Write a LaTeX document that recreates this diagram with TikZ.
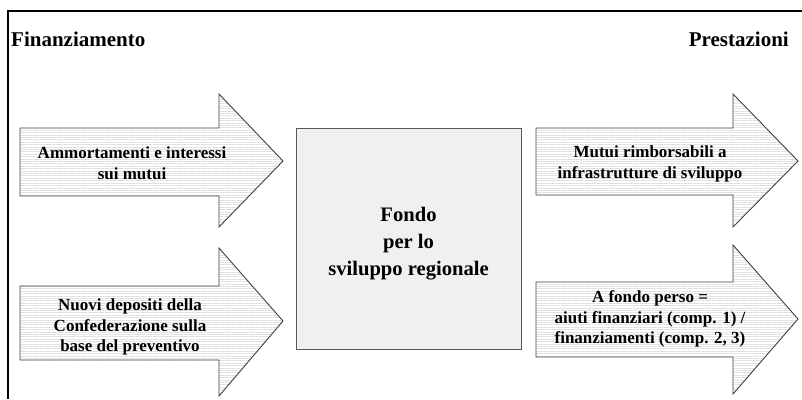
\documentclass[tikz,border=0pt]{standalone}
\usepackage{fontspec}
\setmainfont{Liberation Serif}
\usetikzlibrary{patterns.meta}
\tikzset{
  bigarrow/.style={draw=black!75, line width=0.9pt, line join=miter,
    preaction={fill=white},
    pattern={Lines[angle=0,distance=2.4pt,line width=0.6pt]}, pattern color=black!12},
  arrowtext/.style={font=\bfseries\fontsize{17}{20.5}\selectfont, align=center, inner sep=0pt},
  titletext/.style={font=\bfseries\fontsize{21}{24}\selectfont, inner sep=0pt},
  fundbox/.style={draw=black!65, line width=1pt, fill=black!6},
  fundtext/.style={font=\bfseries\fontsize{20.6}{27}\selectfont, align=center, inner sep=0pt},
}
\begin{document}
\begin{tikzpicture}[x=1pt,y=-1pt]
\useasboundingbox (0,0) rectangle (802,399);
% frame
\draw[line width=2.2pt] (8,399) -- (8,11) -- (802,11);
% titles
\node[titletext, anchor=base west] (fin) at (11,46) {Finanziamento};
\node[titletext, anchor=base east] (pre) at (789,46) {Prestazioni};
% arrows
\draw[bigarrow] (20,128) -- (219,128) -- (219,94) -- (283,161) -- (219,227) -- (219,196) -- (20,196) -- cycle;
\draw[bigarrow] (20,286) -- (219,286) -- (219,248) -- (283,321) -- (219,396) -- (219,360) -- (20,360) -- cycle;
\draw[bigarrow] (536,128) -- (733,128) -- (733,94) -- (798,161) -- (733,227) -- (733,195) -- (536,195) -- cycle;
\draw[bigarrow] (536,282) -- (733,282) -- (733,245) -- (798,319) -- (733,394) -- (733,357) -- (536,357) -- cycle;
% center box
\draw[fundbox] (296,128) rectangle (521,349);
\node[fundtext] (fondo) at (408.5,244) {Fondo\\per lo\\sviluppo regionale};
% arrow texts
\node[arrowtext] (amm) at (132,163) {Ammortamenti e interessi\\sui mutui};
\node[arrowtext] (nuovi) at (130,327) {Nuovi depositi della\\Confederazione sulla\\base del preventivo};
\node[arrowtext] (mutui) at (650,164) {Mutui rimborsabili a\\infrastrutture di sviluppo};
\node[arrowtext] (afondo) at (650,319) {A fondo perso =\\aiuti finanziari (comp. 1) /\\finanziamenti (comp. 2, 3)};
\end{tikzpicture}
\end{document}
